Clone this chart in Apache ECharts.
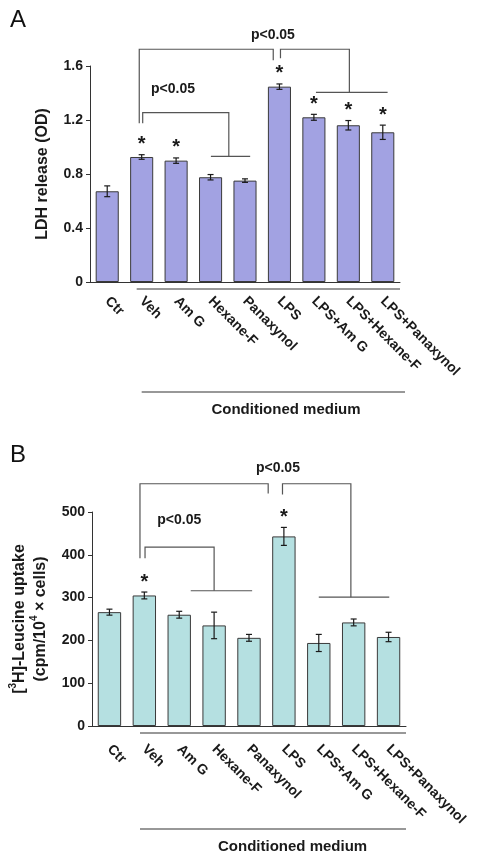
<!DOCTYPE html>
<html><head><meta charset="utf-8">
<script src="https://cdn.jsdelivr.net/npm/echarts@6/dist/echarts.min.js"></script>
<style>html,body{margin:0;padding:0;background:#fff}#c{width:482px;height:860px}</style>
</head><body><div id="c"></div>
<script>
// ---------- data ----------
const categories = ['Ctr','Veh','Am G','Hexane-F','Panaxynol','LPS','LPS+Am G','LPS+Hexane-F','LPS+Panaxynol'];

// Panel A: LDH release (OD)
const ldhMean = [0.672, 0.926, 0.899, 0.776, 0.751, 1.447, 1.220, 1.161, 1.109];
const ldhErr  = [0.040, 0.017, 0.020, 0.020, 0.013, 0.020, 0.022, 0.035, 0.053];
const ldhStar = [0, 1, 1, 0, 0, 1, 1, 1, 1];
const ldhTicks = [0, 0.4, 0.8, 1.2, 1.6];

// Panel B: [3H]-Leucine uptake
const leuMean = [266, 305, 260, 235, 206, 443, 194, 242, 208];
const leuErr  = [7, 8, 8, 31, 8, 21, 20, 8, 11];
const leuStar = [0, 1, 0, 0, 0, 1, 0, 0, 0];
const leuTicks = [0, 100, 200, 300, 400, 500];

// significance brackets: polylines in [category index, value]
const ldhBrackets = [
  [[0.93, 1.176], [0.93, 1.724], [4.82, 1.724], [4.82, 1.642]],
  [[5.03, 1.657], [5.03, 1.724], [7.03, 1.724], [7.03, 1.405]],
  [[6.06, 1.405], [8.14, 1.405]],
  [[1.03, 1.176], [1.03, 1.255], [3.53, 1.255], [3.53, 0.931]],
  [[3.01, 0.931], [4.15, 0.931]]
];
const ldhPText = [[4.81, 1.827], [1.91, 1.427]];

const leuBrackets = [
  [[0.875, 392], [0.875, 566], [4.55, 566], [4.55, 543]],
  [[4.96, 541], [4.96, 566], [6.92, 566], [6.92, 301]],
  [[6.0, 301], [8.02, 301]],
  [[1.02, 392], [1.02, 418], [3.0, 418], [3.0, 316]],
  [[2.33, 316], [4.09, 316]]
];
const leuPText = [[4.83, 603], [2.0, 481]];

// ---------- styles ----------
const FONT = '"Liberation Sans", Arial, Helvetica, sans-serif';
const INK = '#1a1a1a';
const BRK = '#555555';

function panel(idx, opt) {
  const grid = { left: opt.left, right: opt.right, top: opt.top, height: opt.height, containLabel: false };
  const xAxis = {
    type: 'category', data: categories, gridIndex: idx,
    axisLine: { show: true, lineStyle: { color: '#333', width: 1 } },
    axisTick: { show: false },
    axisLabel: {
      interval: 0, rotate: -45, margin: opt.labelMargin, padding: opt.labelPad,
      fontFamily: FONT, fontWeight: 'bold', fontSize: 14, color: INK
    }
  };
  const yAxis = {
    type: 'value', gridIndex: idx, min: opt.ticks[0], max: opt.ticks[opt.ticks.length - 1],
    interval: opt.ticks[1] - opt.ticks[0],
    name: opt.yName, nameLocation: 'middle', nameGap: opt.nameGap, nameRotate: 90,
    nameTextStyle: {
      fontFamily: FONT, fontWeight: 'bold', fontSize: 16, color: INK, lineHeight: 21, align: 'center',
      rich: { sup: { fontFamily: FONT, fontWeight: 'bold', fontSize: 10, color: INK, verticalAlign: 'top', lineHeight: 21, padding: [0, 0, 6, 0] } }
    },
    axisLine: { show: true, lineStyle: { color: '#333', width: 1 } },
    axisTick: { show: true, inside: false, length: 4, lineStyle: { color: '#333' } },
    splitLine: { show: false },
    axisLabel: {
      margin: 7, fontFamily: FONT, fontWeight: 'bold', fontSize: 14, color: INK,
      formatter: v => opt.ticks.includes(v) ? String(v) : ''
    }
  };
  const bars = {
    type: 'bar', xAxisIndex: idx, yAxisIndex: idx, data: opt.mean, barWidth: '67%', z: 2,
    itemStyle: { color: opt.color, borderColor: '#3a3a3a', borderWidth: 1 },
    silent: true, animation: false
  };
  // fractional category position helper (category axis rounds indices)
  const pt = (api, p) => {
    const c0 = api.coord([0, p[1]]);
    const bw = api.size([1, 0])[0];
    return [c0[0] + p[0] * bw, c0[1]];
  };
  const errs = {
    type: 'custom', xAxisIndex: idx, yAxisIndex: idx, clip: false, silent: true, animation: false, z: 10,
    data: opt.mean.map((m, i) => [i, m, opt.err[i], opt.star[i]]),
    renderItem: (params, api) => {
      const i = api.value(0), m = api.value(1), e = api.value(2), s = api.value(3);
      const top = api.coord([i, m + e]);
      const bot = api.coord([i, m - e]);
      const cw = 3;
      const ls = { stroke: INK, lineWidth: 1.2 };
      const ch = [
        { type: 'line', shape: { x1: top[0], y1: top[1], x2: bot[0], y2: bot[1] }, style: ls },
        { type: 'line', shape: { x1: top[0] - cw, y1: top[1], x2: top[0] + cw, y2: top[1] }, style: ls },
        { type: 'line', shape: { x1: bot[0] - cw, y1: bot[1], x2: bot[0] + cw, y2: bot[1] }, style: ls }
      ];
      if (s) ch.push({ type: 'text', x: top[0], y: top[1] - 10, style: { text: '*', fontFamily: FONT, fontWeight: 'bold', fontSize: 20, fill: INK, align: 'center', verticalAlign: 'middle' } });
      return { type: 'group', children: ch };
    }
  };
  const ann = {
    type: 'custom', xAxisIndex: idx, yAxisIndex: idx, clip: false, silent: true, animation: false, z: 10,
    data: [[0, 0]],
    renderItem: (params, api) => {
      const ch = [];
      opt.brackets.forEach(b => {
        ch.push({ type: 'polyline', shape: { points: b.map(p => pt(api, p)) }, style: { stroke: BRK, lineWidth: 1.2, fill: null } });
      });
      opt.ptext.forEach(p => {
        const c = pt(api, p);
        ch.push({ type: 'text', x: c[0], y: c[1], style: { text: 'p<0.05', fontFamily: FONT, fontWeight: 'bold', fontSize: 14, fill: INK, align: 'center', verticalAlign: 'middle' } });
      });
      // conditioned medium bracket below the axis
      const base = api.coord([0, 0])[1];
      const x1 = pt(api, [opt.cmStart, 0])[0];
      const x2 = pt(api, [opt.cmEnd, 0])[0];
      const ls = { stroke: '#333', lineWidth: 1.2 };
      ch.push({ type: 'line', shape: { x1: x1, y1: base + 7, x2: x2, y2: base + 7 }, style: ls });
      ch.push({ type: 'line', shape: { x1: x1 + opt.cmShift, y1: base + opt.cmDrop, x2: x2 + opt.cmShift, y2: base + opt.cmDrop }, style: ls });
      const xc = pt(api, [opt.cmText, 0])[0];
      ch.push({ type: 'text', x: xc, y: base + opt.cmDrop + 18, style: { text: 'Conditioned medium', fontFamily: FONT, fontWeight: 'bold', fontSize: 15, fill: INK, align: 'center', verticalAlign: 'middle' } });
      return { type: 'group', children: ch };
    }
  };
  return { grid, xAxis, yAxis, series: [bars, errs, ann] };
}

const pA = panel(0, {
  left: 90, right: 82, top: 66, height: 216, ticks: ldhTicks, yName: 'LDH release (OD)', nameGap: 36,
  mean: ldhMean, err: ldhErr, star: ldhStar, color: '#a2a2e2', brackets: ldhBrackets, ptext: ldhPText,
  labelMargin: 17, labelPad: [18, 0, 0, 0], cmStart: 0.855, cmEnd: 8.5, cmShift: 5, cmDrop: 110, cmText: 5.19
});
const pB = panel(1, {
  left: 92, right: 76, top: 512, height: 214, ticks: leuTicks,
  yName: '[{sup|3}H]-Leucine uptake\n(cpm/10{sup|4} × cells)', nameGap: 30,
  mean: leuMean, err: leuErr, star: leuStar, color: '#b5e0e1', brackets: leuBrackets, ptext: leuPText,
  labelMargin: 21, labelPad: [0, 0, 11, 0], cmStart: 0.875, cmEnd: 8.5, cmShift: 0, cmDrop: 103, cmText: 5.25
});

const option = {
  backgroundColor: '#fff',
  animation: false,
  title: [
    { text: 'A', left: 5, top: 3, textStyle: { fontFamily: FONT, fontWeight: 'normal', fontSize: 24, color: '#111' } },
    { text: 'B', left: 5, top: 438, textStyle: { fontFamily: FONT, fontWeight: 'normal', fontSize: 24, color: '#111' } }
  ],
  grid: [pA.grid, pB.grid],
  xAxis: [pA.xAxis, pB.xAxis],
  yAxis: [pA.yAxis, pB.yAxis],
  series: [...pA.series, ...pB.series]
};
const chart = echarts.init(document.getElementById('c'), null, { renderer: 'canvas' });
chart.setOption(option);
</script></body></html>
